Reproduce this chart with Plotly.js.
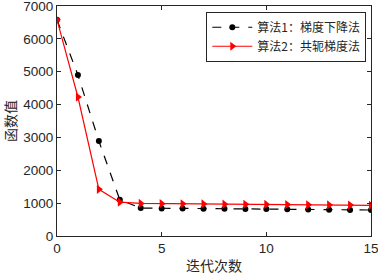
<!DOCTYPE html>
<html><head><meta charset="utf-8">
<script src="https://cdn.plot.ly/plotly-3.0.1.min.js"></script>
<style>html,body{margin:0;padding:0;background:#fff}#c{width:378px;height:277px}</style>
</head><body><div id="c"></div>
<script>
const iterations = [0,1,2,3,4,5,6,7,8,9,10,11,12,13,14,15];
const gradientDescent = [6580,4900,2890,1100,850,840,840,830,830,825,820,815,810,800,795,790];
const conjugateGradient = [6580,4230,1420,1030,990,985,980,975,970,965,960,955,950,945,940,935];
const seriesNames = ['算法1：梯度下降法','算法2：共轭梯度法'];
const xTicks = [0,5,10,15];
const yTicks = [0,1000,2000,3000,4000,5000,6000,7000];

const traces = [
  {x: iterations, y: gradientDescent, name: seriesNames[0], mode: 'lines+markers',
   line: {color: '#000', width: 1.2, dash: 'dash'}, marker: {symbol: 'circle', size: 6, color: '#000'}},
  {x: iterations, y: conjugateGradient, name: seriesNames[1], mode: 'lines+markers',
   line: {color: '#ff0000', width: 1.2}, marker: {symbol: 'triangle-right', size: 8, color: '#ff0000'}}
];
const axisCommon = {showline: true, mirror: 'ticks', linecolor: '#262626', linewidth: 1,
  ticks: 'inside', ticklen: 4, tickcolor: '#262626', showgrid: false, zeroline: false,
  ticklabeloverflow: 'allow',
  tickfont: {family: 'Liberation Sans, Arial, sans-serif', size: 13.5, color: '#262626'}};
const layout = {
  width: 378, height: 277, margin: {l: 57, r: 7, t: 6, b: 41},
  paper_bgcolor: '#fff', plot_bgcolor: '#fff', showlegend: true,
  xaxis: Object.assign({}, axisCommon, {range: [0, 15], tickvals: xTicks,
    title: {text: '迭代次数', font: {family: 'Noto Sans CJK SC', size: 14, color: '#262626'}, standoff: 5}}),
  yaxis: Object.assign({}, axisCommon, {range: [0, 7000], tickvals: yTicks,
    title: {text: '函数值', font: {family: 'Noto Sans CJK SC', size: 14, color: '#262626'}, standoff: 4}}),
  legend: {x: 0.985, y: 0.975, xanchor: 'right', yanchor: 'top', bgcolor: '#fff',
    bordercolor: '#262626', borderwidth: 1, tracegroupgap: 0, itemwidth: 40,
    font: {family: 'Noto Sans CJK SC', size: 12, color: '#262626'}}
};
Plotly.newPlot('c', traces, layout, {displayModeBar: false, staticPlot: true});
</script></body></html>
